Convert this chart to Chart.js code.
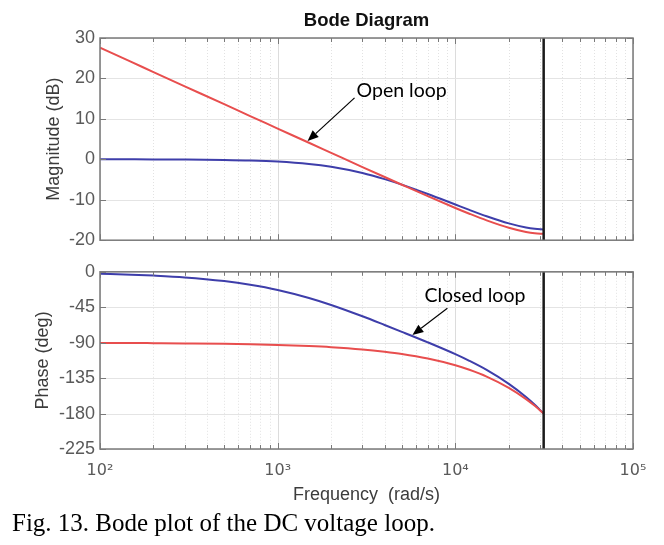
<!DOCTYPE html>
<html>
<head>
<meta charset="utf-8">
<script src="https://cdn.jsdelivr.net/npm/chart.js@4.4.1/dist/chart.umd.min.js"></script>
<style>
body { margin:0; background:#fff; }
#wrap { position:relative; width:664px; height:545px; background:#fff; overflow:hidden; }
#magChart { position:absolute; left:0; top:0; }
#phaseChart { position:absolute; left:0; top:256px; }
#caption { position:absolute; left:12px; top:509px; line-height:28px; font-family:"Liberation Serif", "Times New Roman", serif; font-size:25px; color:#000; white-space:nowrap; }
</style>
</head>
<body>
<div id="wrap">
  <canvas id="magChart" width="664" height="256"></canvas>
  <canvas id="phaseChart" width="664" height="254"></canvas>
  <div id="caption">Fig. 13. Bode plot of the DC voltage loop.</div>
</div>
<script>
// frecuencias (rad/s)
const freq = [100, 150, 200, 300, 500, 700, 1000, 1500, 2000, 3000, 4000, 5000, 7000, 10000, 12000, 15000, 20000, 25000, 28000, 31416];
// magnitud (dB)
const openMag   = [27.60, 24.08, 21.58, 18.06, 13.63, 10.70, 7.61, 4.09, 1.60, -1.91, -4.38, -6.28, -9.12, -12.03, -13.45, -15.09, -16.92, -17.96, -18.29, -18.42];
const closedMag = [-0.01, -0.01, -0.02, -0.05, -0.14, -0.27, -0.54, -1.13, -1.84, -3.38, -4.89, -6.26, -8.58, -11.18, -12.51, -14.07, -15.84, -16.86, -17.18, -17.33];
// fase (deg)
const openPhase   = [-90.3, -90.4, -90.6, -90.9, -91.4, -92.0, -92.9, -94.3, -95.7, -98.6, -101.5, -104.3, -110.1, -118.6, -124.4, -133.0, -147.3, -161.6, -170.2, -180.0];
const closedPhase = [-2.4, -3.6, -4.8, -7.1, -11.8, -16.4, -23.0, -33.2, -42.1, -56.5, -67.5, -76.2, -89.6, -104.6, -113.1, -124.6, -142.3, -159.0, -168.9, -180.0];

const decadeTicks = [100, 1000, 10000, 100000];
const nyquist = 31416;
const supDigits = {2: '\u00B2', 3: '\u00B3', 4: '\u2074', 5: '\u2075'};

const redLine = 'rgb(232,78,78)';
const blueLine = 'rgb(62,62,170)';

function toPoints(xs, ys) {
  return xs.map((v, i) => ({x: v, y: ys[i]}));
}

// dibuja grilla, borde, ticks internos, linea de Nyquist y anotaciones
const bodeFrame = {
  id: 'bodeFrame',
  beforeDatasetsDraw(chart) {
    const ctx = chart.ctx;
    const a = chart.chartArea;
    const x = chart.scales.x, y = chart.scales.y;
    ctx.save();
    // lineas menores punteadas
    ctx.lineWidth = 1;
    for (let d = 2; d < 5; d++) {
      for (let m = 2; m <= 9; m++) {
        const px = Math.round(x.getPixelForValue(m * Math.pow(10, d))) + 0.5;
        ctx.strokeStyle = '#e2e2e2';
        ctx.setLineDash([1, 2]);
        ctx.beginPath(); ctx.moveTo(px, a.top); ctx.lineTo(px, a.bottom); ctx.stroke();
      }
    }
    ctx.setLineDash([]);
    ctx.strokeStyle = '#dcdcdc';
    for (const v of decadeTicks) {
      const px = Math.round(x.getPixelForValue(v)) + 0.5;
      ctx.beginPath(); ctx.moveTo(px, a.top); ctx.lineTo(px, a.bottom); ctx.stroke();
    }
    ctx.strokeStyle = '#e4e4e4';
    for (const t of y.ticks) {
      const py = Math.round(y.getPixelForValue(t.value)) + 0.5;
      ctx.beginPath(); ctx.moveTo(a.left, py); ctx.lineTo(a.right, py); ctx.stroke();
    }
    ctx.restore();
  },
  afterDatasetsDraw(chart, args, opts) {
    const ctx = chart.ctx;
    const a = chart.chartArea;
    const x = chart.scales.x, y = chart.scales.y;
    ctx.save();
    // linea de Nyquist
    const nx = x.getPixelForValue(nyquist);
    ctx.strokeStyle = '#1a1a1a';
    ctx.lineWidth = 2.5;
    ctx.beginPath(); ctx.moveTo(nx, a.top); ctx.lineTo(nx, a.bottom); ctx.stroke();

    // borde y ticks hacia adentro
    ctx.strokeStyle = '#7a7a7a';
    ctx.lineWidth = 1.5;
    ctx.strokeRect(a.left, a.top, a.right - a.left, a.bottom - a.top);
    ctx.lineWidth = 1;
    for (let d = 2; d <= 5; d++) {
      for (let m = 1; m <= 9; m++) {
        const v = m * Math.pow(10, d);
        if (v > 100000) continue;
        const px = Math.round(x.getPixelForValue(v)) + 0.5;
        const len = m === 1 ? 6 : 4;
        ctx.beginPath();
        ctx.moveTo(px, a.bottom); ctx.lineTo(px, a.bottom - len);
        ctx.moveTo(px, a.top); ctx.lineTo(px, a.top + len);
        ctx.stroke();
      }
    }
    for (const t of y.ticks) {
      const py = Math.round(y.getPixelForValue(t.value)) + 0.5;
      ctx.beginPath();
      ctx.moveTo(a.left, py); ctx.lineTo(a.left + 6, py);
      ctx.moveTo(a.right, py); ctx.lineTo(a.right - 6, py);
      ctx.stroke();
    }

    // anotacion con flecha
    const n = opts.note;
    if (n) {
      const x0 = x.getPixelForValue(n.fromX), y0 = y.getPixelForValue(n.fromY);
      const x1 = x.getPixelForValue(n.toX), y1 = y.getPixelForValue(n.toY);
      const ang = Math.atan2(y1 - y0, x1 - x0);
      const hl = 11, hw = 4.5;
      const bx = x1 - hl * Math.cos(ang), by = y1 - hl * Math.sin(ang);
      ctx.strokeStyle = '#000';
      ctx.fillStyle = '#000';
      ctx.lineWidth = 1.2;
      ctx.beginPath(); ctx.moveTo(x0, y0); ctx.lineTo(bx, by); ctx.stroke();
      ctx.beginPath();
      ctx.moveTo(x1, y1);
      ctx.lineTo(bx + hw * Math.sin(ang), by - hw * Math.cos(ang));
      ctx.lineTo(bx - hw * Math.sin(ang), by + hw * Math.cos(ang));
      ctx.closePath(); ctx.fill();
      ctx.font = '19.5px Lato, "Open Sans", sans-serif';
      ctx.textAlign = 'left';
      ctx.textBaseline = 'middle';
      ctx.fillText(n.text, x.getPixelForValue(n.textX), y.getPixelForValue(n.textY));
    }
    ctx.restore();
  }
};

function lineSet(data, color) {
  return {
    data: data,
    borderColor: color,
    borderWidth: 2,
    pointRadius: 0,
    fill: false,
    showLine: true,
    cubicInterpolationMode: 'monotone'
  };
}

function xScale(showLabels) {
  return {
    type: 'logarithmic',
    display: showLabels,
    min: 100,
    max: 100000,
    afterBuildTicks: (scale) => { scale.ticks = decadeTicks.map(v => ({value: v})); },
    afterFit: (scale) => { if (showLabels) scale.height = 61; },
    grid: {display: false, drawTicks: false},
    border: {display: false},
    ticks: {
      autoSkip: false,
      maxRotation: 0,
      padding: 12,
      color: '#5a5a5a',
      font: {family: 'DejaVu Sans, Liberation Sans, sans-serif', size: 16},
      callback: (v) => '10' + supDigits[Math.round(Math.log10(v))]
    },
    title: {
      display: showLabels,
      text: 'Frequency  (rad/s)',
      color: '#3c3c3c',
      font: {family: 'Liberation Sans, Arial, sans-serif', size: 18},
      padding: {top: 0, bottom: 4}
    }
  };
}

function yScale(min, max, step, label, titlePad) {
  return {
    min: min,
    max: max,
    afterFit: (scale) => { scale.width = 100; },
    grid: {display: false, drawTicks: false},
    border: {display: false},
    ticks: {
      stepSize: step,
      padding: 5,
      color: '#5a5a5a',
      font: {family: 'Liberation Sans, Arial, sans-serif', size: 18}
    },
    title: {
      display: true,
      text: label,
      color: '#3c3c3c',
      font: {family: 'Liberation Sans, Arial, sans-serif', size: 18},
      padding: {top: titlePad, bottom: 0}
    }
  };
}

new Chart(document.getElementById('magChart'), {
  type: 'scatter',
  data: {
    datasets: [
      lineSet(toPoints(freq, openMag), redLine),
      lineSet(toPoints(freq, closedMag), blueLine)
    ]
  },
  options: {
    responsive: false,
    animation: false,
    layout: {padding: {left: 0, right: 31, top: 0, bottom: 8}},
    scales: {x: xScale(false), y: yScale(-20, 30, 10, 'Magnitude (dB)', 43)},
    plugins: {
      legend: {display: false},
      tooltip: {enabled: false},
      title: {
        display: true,
        fullSize: false,
        text: 'Bode Diagram',
        color: '#111',
        font: {family: 'Liberation Sans, Arial, sans-serif', size: 18.5, weight: 'bold'},
        padding: {top: 10, bottom: 5.8}
      },
      bodeFrame: {note: {text: 'Open loop', fromX: 2708, fromY: 15.2, toX: 1474, toY: 4.5, textX: 2779, textY: 16.9}}
    }
  },
  plugins: [bodeFrame]
});

new Chart(document.getElementById('phaseChart'), {
  type: 'scatter',
  data: {
    datasets: [
      lineSet(toPoints(freq, openPhase), redLine),
      lineSet(toPoints(freq, closedPhase), blueLine)
    ]
  },
  options: {
    responsive: false,
    animation: false,
    layout: {padding: {left: 0, right: 31, top: 8, bottom: 0}},
    scales: {x: xScale(true), y: yScale(-225, 0, 45, 'Phase (deg)', 32)},
    plugins: {
      legend: {display: false},
      tooltip: {enabled: false},
      bodeFrame: {note: {text: 'Closed loop', fromX: 9019, fromY: -46.2, toX: 5733, toY: -80.3, textX: 6696, textY: -30.4}}
    }
  },
  plugins: [bodeFrame]
});
</script>
</body>
</html>
